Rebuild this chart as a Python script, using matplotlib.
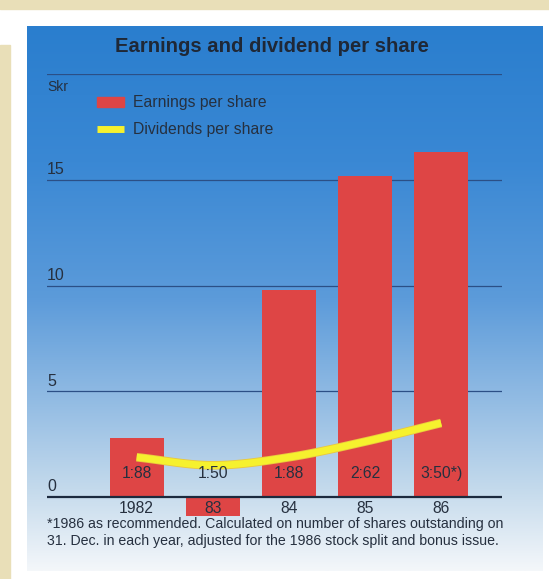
import numpy as np
import matplotlib
matplotlib.use("Agg")
import matplotlib.pyplot as plt
from matplotlib.patches import Patch, Rectangle
from matplotlib.lines import Line2D

plt.rcParams['font.family'] = ['Liberation Sans', 'DejaVu Sans']

# data (Skr per share)
years = ['1982', '83', '84', '85', '86']
earnings = [2.8, -0.9, 9.8, 15.2, 16.3]
dividends = [1.88, 1.50, 1.88, 2.62, 3.50]
div_labels = ['1:88', '1:50', '1:88', '2:62', '3:50*)']
yticks = [0, 5, 10, 15]

W, H = 549, 579
fig = plt.figure(figsize=(W / 100, H / 100), dpi=100)
fig.patch.set_facecolor('white')

def px(x0, y0, w, h):
    # pixel box -> figure fraction
    return [x0 / W, 1 - (y0 + h) / H, w / W, h / H]

# paper edge strips
fig.patches.append(Rectangle((0, 1 - 9 / H), 1, 9 / H, transform=fig.transFigure,
                             color='#e9dfb8', zorder=0))
fig.patches.append(Rectangle((0, 0), 10 / W, 1 - 45 / H, transform=fig.transFigure,
                             color='#e9dfb8', zorder=0))

# blue gradient panel
bg = fig.add_axes(px(27, 26, 516, 545), zorder=0)
stops = np.array([0.0, 0.25, 0.5, 0.7, 0.85, 1.0])
cols = np.array([[42, 126, 206], [58, 136, 212], [92, 155, 218],
                 [150, 190, 228], [196, 218, 236], [244, 247, 250]]) / 255
t = np.linspace(0, 1, 300)
grad = np.stack([np.interp(t, stops, cols[:, i]) for i in range(3)], axis=1)
bg.imshow(grad[:, None, :], aspect='auto', extent=[0, 1, 1, 0])
bg.set_axis_off()

# main chart
ax = fig.add_axes(px(47, 74, 455, 446.3), zorder=1)
ax.patch.set_alpha(0)
x = np.arange(len(years))
xmin, xmax = -1.178, 4.80
ax.set_xlim(xmin, xmax)
ax.set_ylim(-1.1, 20)

for v in [5, 10, 15, 20]:
    ax.axhline(v, color='#2b4f86', lw=0.9, zorder=1)
ax.axhline(0, color='#1c2a3e', lw=1.6, zorder=4)

ax.bar(x, earnings, width=0.71, color='#de4545', zorder=2)

# smooth dividend curve (Catmull-Rom through the yearly values)
pts = np.array(dividends)
ext = np.concatenate([[2 * pts[0] - pts[1]], pts, [2 * pts[-1] - pts[-2]]])
xs, ys = [], []
for i in range(len(pts) - 1):
    p0, p1, p2, p3 = ext[i:i + 4]
    s = np.linspace(0, 1, 30)
    ys.append(0.5 * (2 * p1 + (-p0 + p2) * s + (2 * p0 - 5 * p1 + 4 * p2 - p3) * s ** 2
                     + (-p0 + 3 * p1 - 3 * p2 + p3) * s ** 3))
    xs.append(i + s)
xs, ys = np.concatenate(xs), np.concatenate(ys)
ax.plot(xs, ys, color='#e9c640', lw=6.2, solid_capstyle='butt', zorder=3)
ax.plot(xs, ys, color='#f6f12e', lw=5, solid_capstyle='butt', zorder=3)

txt = '#26303f'
for xi, lab in zip(x, div_labels):
    ax.text(xi, 1.1, lab, ha='center', va='center', fontsize=11.3, color=txt, zorder=5)
for xi, lab in zip(x, years):
    ax.text(xi, -0.55, lab, ha='center', va='center', fontsize=11.3, color=txt, zorder=5)
for v in yticks:
    ax.text(xmin, v + 0.12, str(v), ha='left', va='bottom', fontsize=11.5, color=txt)
ax.text(xmin, 19.7, 'Skr', ha='left', va='top', fontsize=10, color=txt)

handles = [Patch(color='#de4545'),
           Line2D([0], [0], color='#f6f12e', lw=5, solid_capstyle='butt')]
ax.legend(handles, ['Earnings per share', 'Dividends per share'],
          loc='upper left', bbox_to_anchor=(0.11, 0.952), frameon=False,
          borderaxespad=0, borderpad=0,
          fontsize=11.3, handlelength=1.7, handleheight=0.6, labelspacing=0.75,
          handletextpad=0.6, labelcolor=txt)

for sp in ax.spines.values():
    sp.set_visible(False)
ax.set_xticks([])
ax.set_yticks([])

fig.text(272 / W, 1 - 47 / H, 'Earnings and dividend per share', ha='center',
         va='center', fontsize=14.6, fontweight='bold', color='#1f2836')
fig.text(47 / W, 1 - 524 / H,
         '*1986 as recommended. Calculated on number of shares outstanding on',
         ha='left', va='center', fontsize=10.15, color=txt)
fig.text(47 / W, 1 - 541 / H,
         '31. Dec. in each year, adjusted for the 1986 stock split and bonus issue.',
         ha='left', va='center', fontsize=10.15, color=txt)

fig.savefig('out.png', dpi=100)
